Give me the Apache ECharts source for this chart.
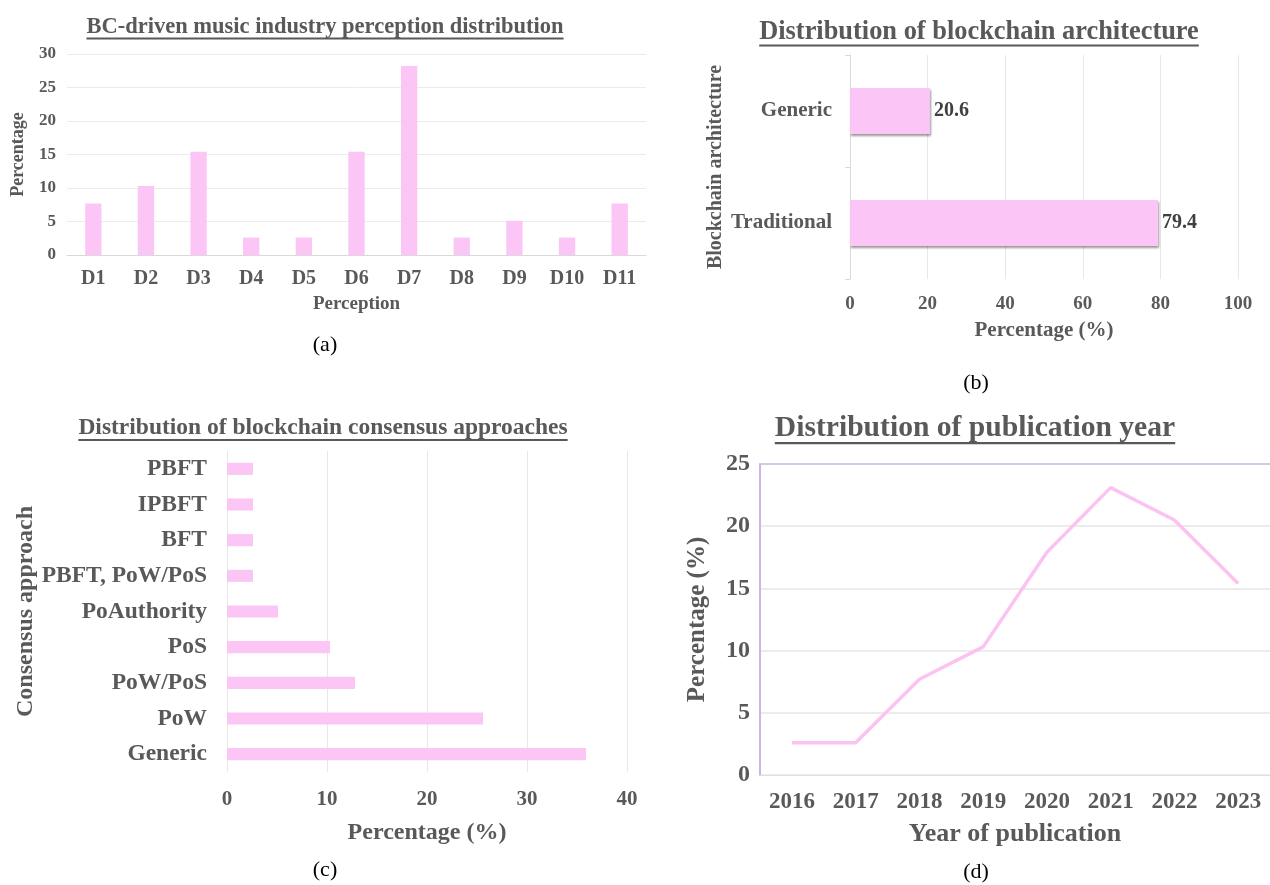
<!DOCTYPE html>
<html>
<head>
<meta charset="utf-8">
<script src="https://cdn.jsdelivr.net/npm/echarts@6/dist/echarts.min.js"></script>
<style>
html,body{margin:0;padding:0;background:#fff;}
#chart{width:1270px;height:885px;}
</style>
</head>
<body>
<div id="chart"></div>
<script>
// ---- data ----
const perceptionCategories = ['D1','D2','D3','D4','D5','D6','D7','D8','D9','D10','D11'];
const perceptionValues = [7.7, 10.3, 15.4, 2.6, 2.6, 15.4, 28.2, 2.6, 5.1, 2.6, 7.7];
const perceptionTicks = {min: 0, max: 30, interval: 5};

const architectureCategories = ['Generic', 'Traditional'];
const architectureValues = [20.6, 79.4];
const architectureTicks = {min: 0, max: 100, interval: 20};

const consensusCategories = ['PBFT', 'IPBFT', 'BFT', 'PBFT, PoW/PoS', 'PoAuthority', 'PoS', 'PoW/PoS', 'PoW', 'Generic'];
const consensusValues = [2.6, 2.6, 2.6, 2.6, 5.1, 10.3, 12.8, 25.6, 35.9];
const consensusTicks = {min: 0, max: 40, interval: 10};

const yearCategories = ['2016','2017','2018','2019','2020','2021','2022','2023'];
const yearValues = [2.6, 2.6, 7.7, 10.3, 17.9, 23.1, 20.5, 15.4];
const yearTicks = {min: 0, max: 25, interval: 5};

const titles = [
  {text: 'BC-driven music industry perception distribution', x: 325, y: 27, size: 22.5},
  {text: 'Distribution of blockchain architecture', x: 979, y: 32, size: 26.4},
  {text: 'Distribution of blockchain consensus approaches', x: 323, y: 428, size: 23.5},
  {text: 'Distribution of publication year', x: 975, y: 428, size: 29.6}
];
const panelLabels = [
  {text: '(a)', x: 325, y: 345},
  {text: '(b)', x: 976, y: 383},
  {text: '(c)', x: 325, y: 870},
  {text: '(d)', x: 976, y: 872}
];

// ---- styles ----
const FONT = '"Liberation Serif", "Times New Roman", serif';
const TXT = '#595959';
const PINK = '#FBC6F5';
const GRID = '#E8E8E8';

const chart = echarts.init(document.getElementById('chart'), null, {renderer: 'canvas'});

const measureCtx = document.createElement('canvas').getContext('2d');
function textWidth(t, size) {
  measureCtx.font = 'bold ' + size + 'px ' + FONT;
  return measureCtx.measureText(t).width;
}

const graphics = [];
titles.forEach(t => {
  graphics.push({
    type: 'text', x: t.x, y: t.y,
    style: {text: t.text, font: 'bold ' + t.size + 'px ' + FONT, fill: TXT, align: 'center', verticalAlign: 'middle'}
  });
  const w = textWidth(t.text, t.size);
  graphics.push({
    type: 'rect',
    shape: {x: t.x - w / 2, y: t.y + t.size * 0.47, width: w, height: Math.max(1.5, t.size * 0.08)},
    style: {fill: TXT}
  });
});
panelLabels.forEach(p => {
  graphics.push({
    type: 'text', x: p.x, y: p.y,
    style: {text: p.text, font: '22px ' + FONT, fill: '#000', align: 'center', verticalAlign: 'middle'}
  });
});

function lbl(size, extra) {
  return Object.assign({color: TXT, fontFamily: FONT, fontWeight: 'bold', fontSize: size}, extra || {});
}

const option = {
  animation: false,
  backgroundColor: '#fff',
  graphic: graphics,
  grid: [
    {left: 67, top: 54, width: 579, height: 201},
    {left: 850, top: 55, width: 388, height: 224},
    {left: 227, top: 451, width: 400, height: 321},
    {left: 760, top: 464, width: 512, height: 311}
  ],
  xAxis: [
    {
      gridIndex: 0, type: 'category', data: perceptionCategories,
      axisLine: {show: true, lineStyle: {color: '#D9D9D9'}}, axisTick: {show: false},
      axisLabel: lbl(20, {margin: 14}),
      name: 'Perception', nameLocation: 'middle', nameGap: 40,
      nameTextStyle: lbl(19)
    },
    {
      gridIndex: 1, type: 'value', min: architectureTicks.min, max: architectureTicks.max, interval: architectureTicks.interval,
      axisLine: {show: false}, axisTick: {show: false},
      splitLine: {show: true, lineStyle: {color: GRID}},
      axisLabel: lbl(19, {margin: 16}),
      name: 'Percentage (%)', nameLocation: 'middle', nameGap: 41,
      nameTextStyle: lbl(21)
    },
    {
      gridIndex: 2, type: 'value', min: consensusTicks.min, max: consensusTicks.max, interval: consensusTicks.interval,
      axisLine: {show: false}, axisTick: {show: false},
      splitLine: {show: true, lineStyle: {color: GRID}},
      axisLabel: lbl(21, {margin: 17}),
      name: 'Percentage (%)', nameLocation: 'middle', nameGap: 49,
      nameTextStyle: lbl(24)
    },
    {
      gridIndex: 3, type: 'category', data: yearCategories, boundaryGap: true,
      axisLine: {show: true, lineStyle: {color: '#E0E0E0'}}, axisTick: {show: false},
      axisLabel: lbl(23, {margin: 16}),
      name: 'Year of publication', nameLocation: 'middle', nameGap: 46,
      nameTextStyle: lbl(26)
    }
  ],
  yAxis: [
    {
      gridIndex: 0, type: 'value', min: perceptionTicks.min, max: perceptionTicks.max, interval: perceptionTicks.interval,
      axisLine: {show: false}, axisTick: {show: false},
      splitLine: {show: true, lineStyle: {color: '#EBEBEB'}},
      axisLabel: lbl(17, {margin: 11}),
      name: 'Percentage', nameLocation: 'middle', nameGap: 40,
      nameTextStyle: lbl(18)
    },
    {
      gridIndex: 1, type: 'category', data: architectureCategories, inverse: true,
      axisLine: {show: true, lineStyle: {color: '#D9D9D9'}},
      axisTick: {show: true, length: 5, lineStyle: {color: '#D9D9D9'}},
      axisLabel: lbl(21, {margin: 18}),
      name: 'Blockchain architecture', nameLocation: 'middle', nameGap: 124,
      nameTextStyle: lbl(20)
    },
    {
      gridIndex: 2, type: 'category', data: consensusCategories, inverse: true,
      axisLine: {show: false}, axisTick: {show: false},
      axisLabel: lbl(23.5, {margin: 20}),
      name: 'Consensus approach', nameLocation: 'middle', nameGap: 188,
      nameTextStyle: lbl(24)
    },
    {
      gridIndex: 3, type: 'value', min: yearTicks.min, max: yearTicks.max, interval: yearTicks.interval,
      axisLine: {show: true, lineStyle: {color: '#CDB4E4', width: 2}}, axisTick: {show: false},
      splitLine: {show: true, lineStyle: {color: ['#E6E6E6', '#E6E6E6', '#E6E6E6', '#E6E6E6', '#E6E6E6', '#CDB4E4'], width: 1.5}},
      axisLabel: lbl(24, {margin: 10}),
      name: 'Percentage (%)', nameLocation: 'middle', nameGap: 50,
      nameTextStyle: lbl(25)
    }
  ],
  series: [
    {
      type: 'bar', xAxisIndex: 0, yAxisIndex: 0, data: perceptionValues,
      barWidth: '31%', itemStyle: {color: PINK}
    },
    {
      type: 'bar', xAxisIndex: 1, yAxisIndex: 1, data: architectureValues,
      barWidth: '41%',
      itemStyle: {color: PINK, shadowColor: 'rgba(0,0,0,0.4)', shadowBlur: 2, shadowOffsetX: 1, shadowOffsetY: 2},
      label: {show: true, position: 'right', distance: 4, color: '#404040', fontFamily: FONT, fontWeight: 'bold', fontSize: 20}
    },
    {
      type: 'bar', xAxisIndex: 2, yAxisIndex: 2, data: consensusValues,
      barWidth: '34%', itemStyle: {color: PINK}
    },
    {
      type: 'line', xAxisIndex: 3, yAxisIndex: 3, data: yearValues,
      showSymbol: false, symbol: 'none',
      lineStyle: {color: '#FCC2F2', width: 3.5}
    }
  ]
};
chart.setOption(option);
</script>
</body>
</html>
